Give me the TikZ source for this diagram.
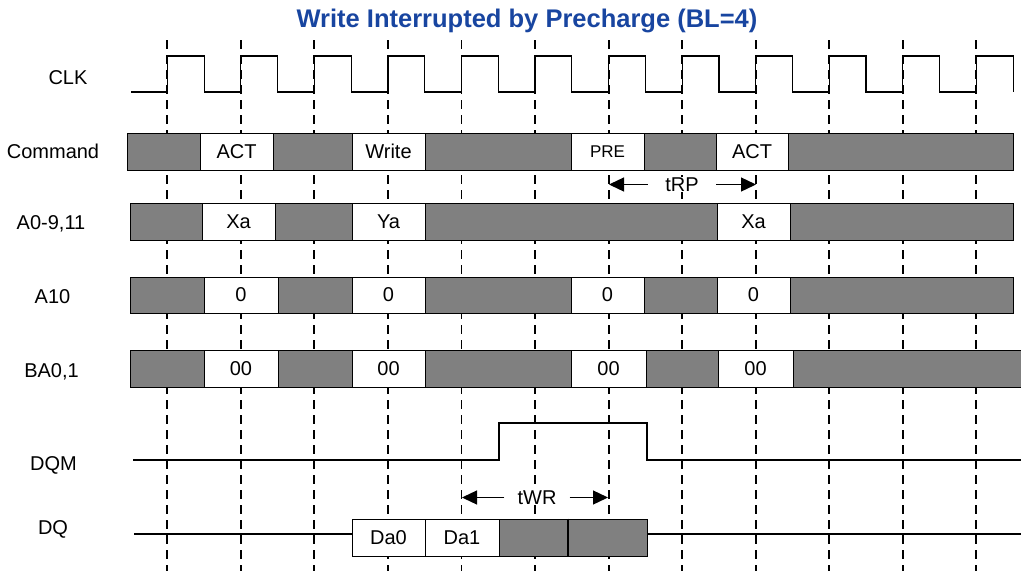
\documentclass[tikz,border=0pt]{standalone}
\usepackage{fontspec}
\setmainfont{Liberation Sans}
\usetikzlibrary{arrows.meta}
\definecolor{titleblue}{HTML}{1845A0}
\definecolor{busgray}{HTML}{808080}
\begin{document}
\begin{tikzpicture}[x=1pt,y=-1pt,
  sig/.style={line width=1.2pt},
  gridline/.style={line width=1.9pt, dash pattern=on 9pt off 6pt},
  bus/.style={draw, line width=0.9pt, fill=busgray},
  cell/.style={draw, line width=0.9pt, fill=white, inner sep=0pt, font=\fontsize{20}{24}\selectfont},
  gcell/.style={draw, line width=0.9pt, fill=busgray, inner sep=0pt},
  lbl/.style={font=\fontsize{20}{24}\selectfont, inner sep=0pt, anchor=base},
  tm/.style={fill=white, inner ysep=1pt, font=\fontsize{20}{24}\selectfont},
  arr/.style={line width=1.3pt, -{Triangle[length=15pt,width=14pt]}}]
\useasboundingbox (0,0) rectangle (1021,571);

% title
\node[font=\bfseries\fontsize{25.5}{30}\selectfont, text=titleblue, inner sep=0pt, anchor=base] (title) at (527,27) {Write Interrupted by Precharge (BL=4)};

% clock grid
\foreach \k in {0,...,11} {
  \draw[gridline] ({167.3+73.55*\k},40) -- ({167.3+73.55*\k},571);
}

% signal labels
\node[lbl] (lclk) at (68,84) {CLK};
\node[lbl] (lcmd) at (53,158) {Command};
\node[lbl] (laddr) at (51,229) {A0-9,11};
\node[lbl] (la10) at (52.5,303) {A10};
\node[lbl] (lba) at (51.5,377) {BA0,1};
\node[lbl] (ldqm) at (53.5,470) {DQM};
\node[lbl] (ldq) at (53,534) {DQ};

% CLK waveform
\draw[sig] (131,92) foreach \k in {0,...,11} {
  -- ({167.3+73.55*\k},92) -- ({167.3+73.55*\k},56)
  -- ({204.1+73.55*\k},56) -- ({204.1+73.55*\k},92) };

% Command bus
\path[bus] (127,133) rectangle (1013,170);
\node[cell, minimum width=73pt, minimum height=37pt] (cact1) at (236.5,151.5) {ACT};
\node[cell, minimum width=73pt, minimum height=37pt] (cwrite) at (388.5,151.5) {Write};
\node[cell, minimum width=73pt, minimum height=37pt, font=\fontsize{17}{20}\selectfont] (cpre) at (607.5,151.5) {PRE};
\node[cell, minimum width=72pt, minimum height=37pt] (cact2) at (752,151.5) {ACT};

% A0-9,11 bus
\path[bus] (130,203) rectangle (1013,240);
\node[cell, minimum width=73pt, minimum height=37pt] (axa1) at (238.5,221.5) {Xa};
\node[cell, minimum width=73pt, minimum height=37pt] (aya) at (388.5,221.5) {Ya};
\node[cell, minimum width=73pt, minimum height=37pt] (axa2) at (753.5,221.5) {Xa};

% A10 bus
\path[bus] (130,277) rectangle (1013,313);
\node[cell, minimum width=74pt, minimum height=36pt] (a10a) at (241,295) {0};
\node[cell, minimum width=73pt, minimum height=36pt] (a10b) at (388.5,295) {0};
\node[cell, minimum width=73pt, minimum height=36pt] (a10c) at (607.5,295) {0};
\node[cell, minimum width=73pt, minimum height=36pt] (a10d) at (753.5,295) {0};

% BA0,1 bus
\path[bus] (130,350) rectangle (1025,387);
\node[cell, minimum width=74pt, minimum height=37pt] (baa) at (241,368.5) {00};
\node[cell, minimum width=73pt, minimum height=37pt] (bab) at (388.5,368.5) {00};
\node[cell, minimum width=75pt, minimum height=37pt] (bac) at (608.5,368.5) {00};
\node[cell, minimum width=75pt, minimum height=37pt] (bad) at (755.5,368.5) {00};

% DQM
\draw[sig] (133,460) -- (499,460) -- (499,423) -- (647,423) -- (647,460) -- (1021,460);

% DQ
\draw[sig] (134,534) -- (352,534);
\draw[sig] (647,534) -- (1021,534);
\node[cell, minimum width=73pt, minimum height=37pt] (da0) at (388.5,537.5) {Da0};
\node[cell, minimum width=74pt, minimum height=37pt] (da1) at (462,537.5) {Da1};
\node[gcell, minimum width=69pt, minimum height=37pt] (da2) at (533.5,537.5) {};
\node[gcell, minimum width=79pt, minimum height=37pt] (da3) at (607.5,537.5) {};
\draw[line width=2pt] (da3.north west) -- (da3.south west);

% tRP
\node[tm, inner xsep=17.3pt] (trp) at (682,184.5) {tRP};
\coordinate (trpL) at (609,184.5);
\coordinate (trpR) at (756,184.5);
\draw[arr] (trp.west) -- (trpL);
\draw[arr] (trp.east) -- (trpR);

% tWR
\node[tm, inner xsep=13pt] (twr) at (537,497.5) {tWR};
\coordinate (twrL) at (462,497.5);
\coordinate (twrR) at (608,497.5);
\draw[arr] (twr.west) -- (twrL);
\draw[arr] (twr.east) -- (twrR);
\end{tikzpicture}
\end{document}
